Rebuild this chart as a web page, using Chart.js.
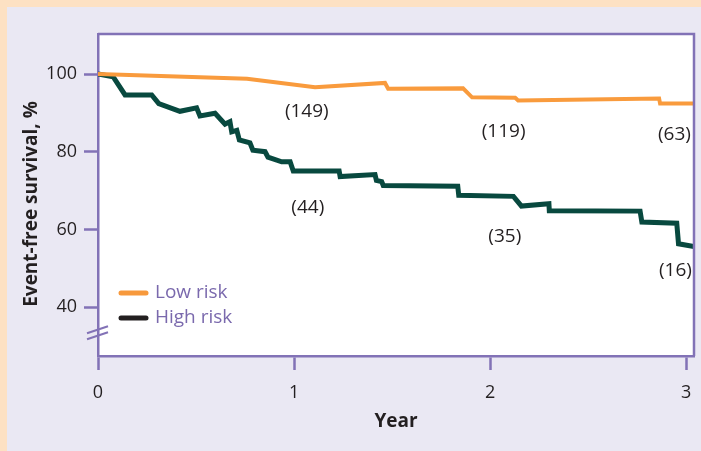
<!DOCTYPE html>
<html>
<head>
<meta charset="utf-8">
<script src="https://cdn.jsdelivr.net/npm/chart.js@4"></script>
<style>
    html, body { margin: 0; padding: 0; overflow: hidden; background: #eae8f3; }
    #wrap { position: relative; width: 701px; height: 451px; }
    canvas { display: block; }
</style>
</head>
<body>
<div id="wrap"><canvas id="survivalChart" width="701" height="451" style="width:701px;height:451px"></canvas></div>
<script>
// Kaplan-Meier style curves
const seriesNames = ['Low risk', 'High risk'];

const lowX = [0, 0.76, 1.107, 1.464, 1.48, 1.862, 1.908, 2.128, 2.143, 2.862, 2.867, 3.04];
const lowY = [100, 98.8, 96.6, 97.7, 96.2, 96.3, 94.0, 93.9, 93.2, 93.7, 92.4, 92.4];

const highX = [0, 0.077, 0.138, 0.274, 0.31, 0.418, 0.503, 0.52, 0.597, 0.648, 0.673, 0.682,
    0.708, 0.721, 0.775, 0.79, 0.852, 0.867, 0.937, 0.98, 0.996, 1.23, 1.235, 1.413, 1.42,
    1.447, 1.455, 1.835, 1.84, 2.119, 2.16, 2.30, 2.302, 2.765, 2.774, 2.952, 2.961, 3.04];
const highY = [100, 99.3, 94.6, 94.6, 92.4, 90.4, 91.3, 89.2, 89.9, 87.1, 87.7, 85.1,
    85.5, 83.0, 82.3, 80.4, 80.0, 78.6, 77.4, 77.4, 75.0, 75.0, 73.6, 74.1, 72.6,
    72.3, 71.3, 71.1, 68.8, 68.5, 66.0, 66.6, 64.8, 64.7, 61.9, 61.6, 56.3, 55.6];

// numbers at risk
const noteText = ['(149)', '(44)', '(119)', '(35)', '(63)', '(16)'];
const noteX = [1.065, 1.07, 2.069, 2.075, 2.94, 2.945];
const noteY = [90.2, 65.5, 85.2, 58.2, 84.4, 49.4];

const xTicks = [0, 1, 2, 3];
const yTicks = [40, 60, 80, 100];

const PURPLE = '#8272b6';
const INK = '#231f20';

function toPoints(xs, ys) {
    return xs.map((x, i) => ({ x: x, y: ys[i] }));
}

// backgrounds, frame, axis break, legend and at-risk labels
const decor = {
    id: 'decor',
    beforeDraw(chart) {
        const { ctx, chartArea: a } = chart;
        ctx.save();
        ctx.fillStyle = '#eae8f3';
        ctx.fillRect(0, 0, chart.width, chart.height);
        ctx.fillStyle = '#fde1c3';
        ctx.fillRect(0, 0, chart.width, 7);
        ctx.fillRect(0, 0, 7, chart.height);
        ctx.fillStyle = '#ffffff';
        ctx.fillRect(a.left, a.top, a.right - a.left, a.bottom - a.top);
        ctx.restore();
    },
    afterDatasetsDraw(chart) {
        const { ctx, chartArea: a, scales } = chart;
        ctx.save();
        // top and right edges of the frame
        ctx.strokeStyle = PURPLE;
        ctx.lineWidth = 2.5;
        ctx.beginPath();
        ctx.moveTo(a.left, a.top);
        ctx.lineTo(a.right, a.top);
        ctx.lineTo(a.right, a.bottom);
        ctx.stroke();

        // axis break marks
        const by = scales.y.getPixelForValue(33.4);
        ctx.lineWidth = 2;
        [-3, 3].forEach(off => {
            ctx.beginPath();
            ctx.moveTo(a.left - 11, by + off + 3.5);
            ctx.lineTo(a.left + 10, by + off - 3.5);
            ctx.stroke();
        });

        // legend
        const legendColors = ['#f7993c', INK];
        ctx.font = '19px "Open Sans"';
        ctx.textBaseline = 'middle';
        ctx.textAlign = 'left';
        seriesNames.forEach((name, i) => {
            const y = 293 + i * 25;
            ctx.strokeStyle = legendColors[i];
            ctx.lineWidth = 5;
            ctx.lineCap = 'round';
            ctx.beginPath();
            ctx.moveTo(a.left + 23, y);
            ctx.lineTo(a.left + 48, y);
            ctx.stroke();
            ctx.fillStyle = '#7a69ad';
            ctx.fillText(name, a.left + 57, y);
        });

        // numbers at risk
        ctx.fillStyle = INK;
        ctx.textAlign = 'center';
        noteText.forEach((t, i) => {
            ctx.fillText(t, scales.x.getPixelForValue(noteX[i]), scales.y.getPixelForValue(noteY[i]));
        });

        // y axis title
        ctx.font = 'bold 19px "Open Sans"';
        ctx.translate(32, 204);
        ctx.rotate(-Math.PI / 2);
        ctx.fillText('Event-free survival, %', 0, 0);
        ctx.restore();
    }
};

const ctx = document.getElementById('survivalChart').getContext('2d');
const survivalChart = new Chart(ctx, {
    type: 'line',
    data: {
        datasets: [{
            label: seriesNames[0],
            data: toPoints(lowX, lowY),
            borderColor: '#f99b3d',
            borderWidth: 4
        }, {
            label: seriesNames[1],
            data: toPoints(highX, highY),
            borderColor: '#08493f',
            borderWidth: 5
        }]
    },
    options: {
        responsive: false,
        animation: false,
        devicePixelRatio: 1,
        layout: {
            padding: { left: 0, top: 34, right: 7, bottom: 0 }
        },
        elements: {
            point: { radius: 0 },
            line: { tension: 0, borderJoinStyle: 'miter', borderCapStyle: 'butt' }
        },
        plugins: {
            legend: { display: false },
            tooltip: { enabled: false }
        },
        scales: {
            x: {
                type: 'linear',
                min: 0,
                max: 3.04,
                afterBuildTicks: function(scale) {
                    scale.ticks = xTicks.map(v => ({ value: v }));
                },
                afterFit: function(scale) {
                    scale.height = 95;
                    scale.paddingLeft = 0;
                    scale.paddingRight = 0;
                },
                grid: {
                    drawOnChartArea: false,
                    tickLength: 14,
                    tickWidth: 2.5,
                    tickColor: PURPLE
                },
                border: { color: PURPLE, width: 2.5 },
                ticks: {
                    color: INK,
                    padding: 12,
                    maxRotation: 0,
                    font: { family: 'Open Sans', size: 18 }
                },
                title: {
                    display: true,
                    text: 'Year',
                    color: INK,
                    padding: { top: 0, bottom: 18 },
                    font: { family: 'Open Sans', size: 19, weight: 'bold' }
                }
            },
            y: {
                min: 27.4,
                max: 110.3,
                afterBuildTicks: function(scale) {
                    scale.ticks = yTicks.map(v => ({ value: v }));
                },
                afterFit: function(scale) {
                    scale.width = 98;
                    scale.paddingTop = 0;
                    scale.paddingBottom = 0;
                },
                grid: {
                    drawOnChartArea: false,
                    tickLength: 14,
                    tickWidth: 2.5,
                    tickColor: PURPLE
                },
                border: { color: PURPLE, width: 2.5 },
                ticks: {
                    color: INK,
                    padding: 7,
                    font: { family: 'Open Sans', size: 18 }
                }
            }
        }
    },
    plugins: [decor]
});
</script>
</body>
</html>
